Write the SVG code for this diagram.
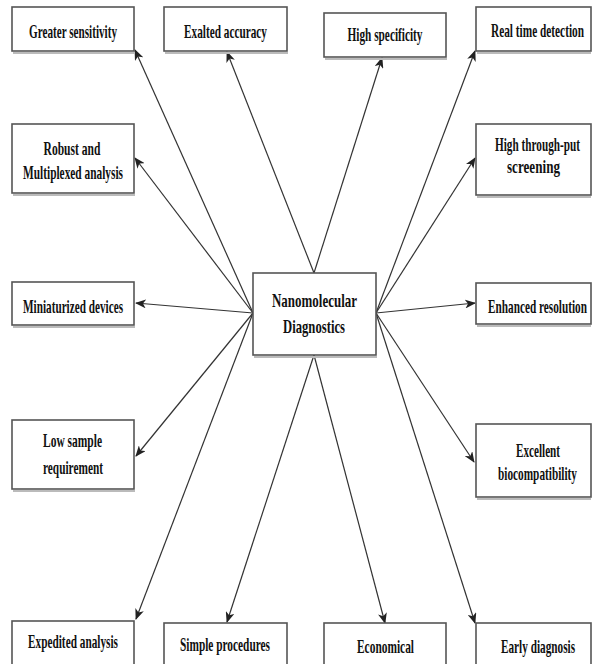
<svg xmlns="http://www.w3.org/2000/svg" width="592" height="664" viewBox="0 0 592 664">
<style>
.box{fill:#fff;stroke:#555;stroke-width:1.6}
.shadow{fill:none;stroke:#bbb;stroke-width:2}
.t{font-family:"Liberation Serif","Times New Roman",serif;font-weight:bold;font-size:18px;fill:#111;text-anchor:middle}
.c line{stroke:#333;stroke-width:1.2;marker-end:url(#ah)}
</style>
<defs>
<marker id="ah" markerUnits="userSpaceOnUse" markerWidth="11" markerHeight="9" refX="10" refY="4.5" orient="auto">
<path d="M0,0 L11,4.5 L0,9 L3,4.5 z" fill="#222"/>
</marker>
</defs>
<rect width="592" height="664" fill="#fff"/>
<g class="c" id="connectors">
<line x1="253" y1="313" x2="135" y2="50"/>
<line x1="253" y1="313" x2="135" y2="158"/>
<line x1="253" y1="313" x2="136" y2="303"/>
<line x1="253" y1="313" x2="136" y2="456"/>
<line x1="253" y1="313" x2="136" y2="619"/>
<line x1="314" y1="273" x2="227" y2="52"/>
<line x1="314" y1="273" x2="382" y2="58"/>
<line x1="376" y1="313" x2="475" y2="51"/>
<line x1="376" y1="313" x2="475" y2="158"/>
<line x1="376" y1="313" x2="475" y2="303"/>
<line x1="376" y1="313" x2="474" y2="462"/>
<line x1="376" y1="313" x2="475" y2="623"/>
<line x1="314" y1="355" x2="227" y2="622"/>
<line x1="314" y1="355" x2="385" y2="623"/>
</g>
<g id="greater-sensitivity"><line class="shadow" x1="13" y1="53" x2="135" y2="53"/><rect class="box" x="12" y="7" width="122" height="44"/><text class="t" transform="translate(73,38) scale(0.62,1)" textLength="141.9" lengthAdjust="spacingAndGlyphs">Greater sensitivity</text></g>
<g id="exalted-accuracy"><line class="shadow" x1="165" y1="53" x2="288" y2="53"/><rect class="box" x="164" y="7" width="123" height="44"/><text class="t" transform="translate(225.5,38) scale(0.62,1)" textLength="133.9" lengthAdjust="spacingAndGlyphs">Exalted accuracy</text></g>
<g id="high-specificity"><line class="shadow" x1="325" y1="59" x2="447" y2="59"/><rect class="box" x="324" y="13" width="122" height="44"/><text class="t" transform="translate(385,41) scale(0.62,1)" textLength="121" lengthAdjust="spacingAndGlyphs">High specificity</text></g>
<g id="real-time-detection"><line class="shadow" x1="477" y1="53" x2="591" y2="53"/><rect class="box" x="476" y="7" width="115" height="44"/><text class="t" transform="translate(537.5,37) scale(0.62,1)" textLength="150" lengthAdjust="spacingAndGlyphs">Real time detection</text></g>
<g id="robust"><line class="shadow" x1="13" y1="195" x2="135" y2="195"/><rect class="box" x="12" y="124" width="122" height="69"/><text class="t" transform="translate(72,155) scale(0.62,1)" textLength="91.9" lengthAdjust="spacingAndGlyphs">Robust and</text><text class="t" transform="translate(73,179) scale(0.62,1)" textLength="161.3" lengthAdjust="spacingAndGlyphs">Multiplexed analysis</text></g>
<g id="high-throughput"><line class="shadow" x1="477" y1="197" x2="591" y2="197"/><rect class="box" x="476" y="124" width="115" height="71"/><text class="t" transform="translate(537.5,151) scale(0.62,1)" textLength="137.1" lengthAdjust="spacingAndGlyphs">High through-put</text><text class="t" transform="translate(533.5,173) scale(0.62,1)" textLength="85.5" lengthAdjust="spacingAndGlyphs">screening</text></g>
<g id="nanomolecular-diagnostics"><line class="shadow" x1="254" y1="357" x2="377" y2="357"/><rect class="box" x="253" y="273" width="123" height="82"/><text class="t" transform="translate(314.5,307) scale(0.62,1)" textLength="137.1" lengthAdjust="spacingAndGlyphs">Nanomolecular</text><text class="t" transform="translate(314,333) scale(0.62,1)" textLength="100" lengthAdjust="spacingAndGlyphs">Diagnostics</text></g>
<g id="miniaturized-devices"><line class="shadow" x1="13" y1="327" x2="135" y2="327"/><rect class="box" x="12" y="282" width="122" height="43"/><text class="t" transform="translate(73,313) scale(0.62,1)" textLength="161.3" lengthAdjust="spacingAndGlyphs">Miniaturized devices</text></g>
<g id="enhanced-resolution"><line class="shadow" x1="477" y1="326" x2="591" y2="326"/><rect class="box" x="476" y="283" width="115" height="41"/><text class="t" transform="translate(537.5,313) scale(0.62,1)" textLength="159.7" lengthAdjust="spacingAndGlyphs">Enhanced resolution</text></g>
<g id="low-sample"><line class="shadow" x1="13" y1="491" x2="135" y2="491"/><rect class="box" x="12" y="420" width="122" height="69"/><text class="t" transform="translate(72.5,447) scale(0.62,1)" textLength="95.2" lengthAdjust="spacingAndGlyphs">Low sample</text><text class="t" transform="translate(73,474) scale(0.62,1)" textLength="96.8" lengthAdjust="spacingAndGlyphs">requirement</text></g>
<g id="excellent-biocompatibility"><line class="shadow" x1="477" y1="499" x2="591" y2="499"/><rect class="box" x="476" y="424" width="115" height="73"/><text class="t" transform="translate(538,457) scale(0.62,1)" textLength="71" lengthAdjust="spacingAndGlyphs">Excellent</text><text class="t" transform="translate(537.5,480) scale(0.62,1)" textLength="127.4" lengthAdjust="spacingAndGlyphs">biocompatibility</text></g>
<g id="expedited-analysis"><rect class="box" x="12" y="621" width="122" height="46"/><text class="t" transform="translate(73,648) scale(0.62,1)" textLength="145.2" lengthAdjust="spacingAndGlyphs">Expedited analysis</text></g>
<g id="simple-procedures"><rect class="box" x="164" y="623" width="123" height="46"/><text class="t" transform="translate(225,651) scale(0.62,1)" textLength="145.2" lengthAdjust="spacingAndGlyphs">Simple procedures</text></g>
<g id="economical"><rect class="box" x="324" y="623" width="122" height="46"/><text class="t" transform="translate(385.5,653) scale(0.62,1)" textLength="91.9" lengthAdjust="spacingAndGlyphs">Economical</text></g>
<g id="early-diagnosis"><rect class="box" x="476" y="623" width="115" height="46"/><text class="t" transform="translate(538,653) scale(0.62,1)" textLength="119.4" lengthAdjust="spacingAndGlyphs">Early diagnosis</text></g>
</svg>
